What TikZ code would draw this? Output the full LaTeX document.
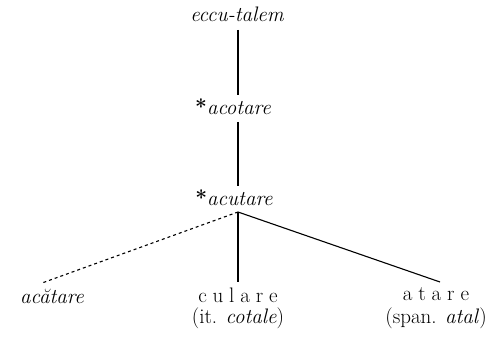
\documentclass[tikz,border=0pt]{standalone}
\newcommand{\lsp}{\hspace{0.28em}}
\begin{document}
\begin{tikzpicture}[x=1pt,y=-1pt,
  lbl/.style={inner sep=1pt,font=\fontsize{21}{23}\selectfont},
  edge/.style={line width=1.1pt}]
\useasboundingbox (0,0) rectangle (502,339);
\node[lbl] (ecc) at (237,14) {\itshape eccu-talem};
\node[lbl] (aco) at (233,107) {{\upshape\bfseries *}\itshape acotare};
\node[lbl] (acu) at (234,198) {{\upshape\bfseries *}\itshape acutare};
\node[lbl] (aca) at (52,296) {\itshape acătare};
\node[lbl] (cul) at (238,295) {c\lsp u\lsp l\lsp a\lsp r\lsp e};
\node[lbl] (it) at (238,318) {(it. \textit{cotale})};
\node[lbl] (ata) at (436,294) {a\lsp t\lsp a\lsp r\lsp e};
\node[lbl] (spa) at (436,318) {(span. \textit{atal})};
\coordinate (top) at (238,30);
\coordinate (b1) at (238,95);
\coordinate (t2) at (238,122);
\coordinate (b2) at (238,186);
\coordinate (fork) at (238,212);
\coordinate (lend) at (42,283);
\coordinate (mend) at (238,282);
\coordinate (rend) at (440,282);
\draw[edge] (top) -- (b1);
\draw[edge] (t2) -- (b2);
\draw[edge,dashed] (fork) -- (lend);
\draw[edge] (fork) -- (mend);
\draw[edge] (fork) -- (rend);
\end{tikzpicture}
\end{document}
